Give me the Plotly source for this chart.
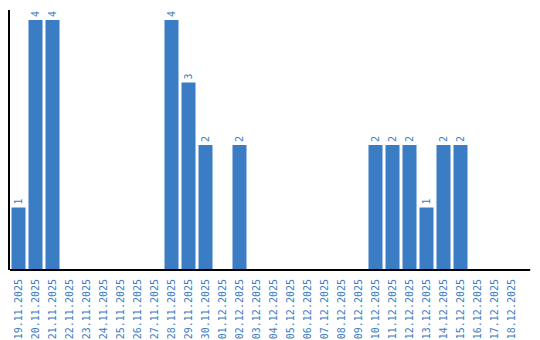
import plotly.graph_objects as go

dates = ["19.11.2025","20.11.2025","21.11.2025","22.11.2025","23.11.2025","24.11.2025",
         "25.11.2025","26.11.2025","27.11.2025","28.11.2025","29.11.2025","30.11.2025",
         "01.12.2025","02.12.2025","03.12.2025","04.12.2025","05.12.2025","06.12.2025",
         "07.12.2025","08.12.2025","09.12.2025","10.12.2025","11.12.2025","12.12.2025",
         "13.12.2025","14.12.2025","15.12.2025","16.12.2025","17.12.2025","18.12.2025"]
counts = [1,4,4,0,0,0,0,0,0,4,3,2,0,2,0,0,0,0,0,0,0,2,2,2,1,2,2,0,0,0]
labels = [str(c) if c > 0 else "" for c in counts]

blue = "#3b7dc4"
font = "DejaVu Sans Mono"

fig = go.Figure(go.Bar(
    x=dates, y=counts, text=labels, textposition="outside",
    textangle=-90, cliponaxis=False,
    textfont=dict(family=font, size=10, color=blue),
    marker=dict(color=blue, line=dict(width=0)),
))
fig.update_layout(
    width=540, height=340,
    margin=dict(l=10, r=20, t=10, b=70, autoexpand=False),
    paper_bgcolor="white", plot_bgcolor="white",
    bargap=0.176, showlegend=False,
)
fig.add_shape(type="line", xref="paper", yref="paper", x0=0, x1=1.02, y0=0, y1=0,
              line=dict(color="black", width=2), layer="above")
fig.update_xaxes(
    type="category", tickangle=-90, showline=False, automargin=False,
    showgrid=False, ticks="outside", ticklen=4, tickcolor="rgba(0,0,0,0)",
    tickfont=dict(family=font, size=10, color=blue),
)
fig.update_yaxes(
    range=[0, 4.16], showline=True, linecolor="black", linewidth=1.5,
    showgrid=False, showticklabels=False, ticks="", zeroline=False, automargin=False,
)
fig.write_html("out.html")
